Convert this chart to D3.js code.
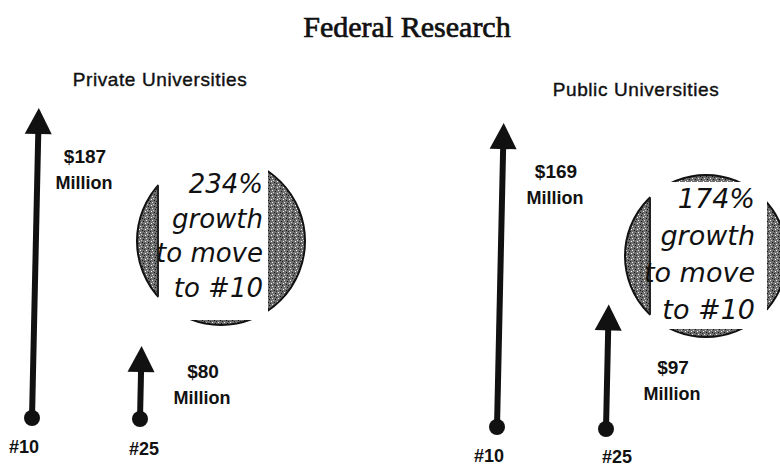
<!DOCTYPE html>
<html>
<head>
<meta charset="utf-8">
<script src="https://cdn.jsdelivr.net/npm/d3@7"></script>
<style>
  html, body { margin: 0; padding: 0; background: #fff; }
  svg { display: block; }
</style>
</head>
<body>
<div id="chart"></div>
<script>
(function() {
  // data
  const TITLE = "Federal Research";
  const panelNames = ["Private Universities", "Public Universities"];
  const rankLabels = ["#10", "#25"];
  const privateMillions = [187, 80];
  const publicMillions = [169, 97];
  const growthPct = [234, 174];
  const growthLines = ["growth", "to move", "to #10"];

  const W = 780, H = 468;
  const SANS = "'Liberation Sans', Arial, Helvetica, sans-serif";

  // layout per panel (positions only, no values)
  const layout = [
    {
      titleX: 160, titleY: 86,
      baseY: [418, 419], arrowX: [35, 143], maxLen: 310,
      labelDX: [50, 60], labelDY: [55, 32],
      rankDX: [-8, 4], rankDY: [35, 36],
      circle: { cx: 221, cy: 241, r: 84, x0: 158, x1: 268, y0: 150, y1: 320 },
      textX: 263, textY: 193, lineGap: 34.5, textSize: 26
    },
    {
      titleX: 636, titleY: 96,
      baseY: [427, 429], arrowX: [500, 609], maxLen: 304,
      labelDX: [56, 64], labelDY: [55, 70],
      rankDX: [-8, 11], rankDY: [35, 34],
      circle: { cx: 706, cy: 256, r: 81, x0: 650, x1: 767, y0: 182, y1: 329 },
      textX: 755, textY: 208, lineGap: 37, textSize: 27
    }
  ];

  const TILT = 0.022; // the scan leans a little to the right
  const MIN_VAL = 47; // arrows in the original do not start at zero

  const svg = d3.select("#chart").append("svg")
    .attr("width", W).attr("height", H);

  // stipple texture for the circles
  const defs = svg.append("defs");
  const pat = defs.append("pattern")
    .attr("id", "stipple")
    .attr("patternUnits", "userSpaceOnUse")
    .attr("width", 6).attr("height", 6);
  pat.append("rect").attr("width", 6).attr("height", 6).attr("fill", "#6e6e6e");
  [[1, 1, "#fff"], [4, 2, "#111"], [2, 4, "#eee"], [5, 5, "#111"], [0, 3, "#222"], [3, 0, "#ccc"]]
    .forEach(([x, y, c]) => pat.append("rect")
      .attr("x", x).attr("y", y).attr("width", 1).attr("height", 1).attr("fill", c));

  // title
  svg.append("text")
    .attr("x", 407).attr("y", 37)
    .attr("text-anchor", "middle")
    .style("font-family", "'Liberation Serif', 'DejaVu Serif', serif")
    .style("font-size", "30px")
    .style("fill", "#111")
    .style("stroke", "#111").style("stroke-width", "0.7px")
    .text(TITLE);

  const allValues = [privateMillions, publicMillions];

  panelNames.forEach((name, p) => {
    const L = layout[p];
    const vals = allValues[p];
    const g = svg.append("g");

    g.append("text")
      .attr("x", L.titleX).attr("y", L.titleY)
      .attr("text-anchor", "middle")
      .style("font-family", SANS)
      .style("font-size", "19px")
      .style("letter-spacing", "0.6px")
      .style("fill", "#111")
      .style("stroke", "#111").style("stroke-width", "0.4px")
      .text(name);

    // growth circle
    const c = L.circle;
    const clipId = "clip" + p;
    defs.append("clipPath").attr("id", clipId)
      .append("circle").attr("cx", c.cx).attr("cy", c.cy).attr("r", c.r);

    g.append("circle")
      .attr("cx", c.cx).attr("cy", c.cy).attr("r", c.r)
      .attr("fill", "url(#stipple)")
      .attr("stroke", "#111").attr("stroke-width", 2);
    g.append("rect")
      .attr("x", c.x0).attr("y", c.y0)
      .attr("width", c.x1 - c.x0).attr("height", c.y1 - c.y0)
      .attr("fill", "#fff");
    // thin edge left of the white box
    g.append("g").attr("clip-path", `url(#${clipId})`)
      .append("rect")
      .attr("x", c.x0 - 1).attr("y", c.y0).attr("width", 2).attr("height", c.y1 - c.y0)
      .attr("fill", "#222");

    const lines = [growthPct[p] + "%"].concat(growthLines);
    g.selectAll("text.grow")
      .data(lines)
      .enter().append("text")
      .attr("class", "grow")
      .attr("x", L.textX)
      .attr("y", (d, i) => L.textY + i * L.lineGap)
      .attr("text-anchor", "end")
      .style("font-family", "'DejaVu Sans', sans-serif")
      .style("font-style", "italic")
      .style("font-size", L.textSize + "px")
      .style("fill", "#111")
      .text(d => d);

    // arrows
    const y = d3.scaleLinear()
      .domain([MIN_VAL, d3.max(vals)])
      .range([0, L.maxLen]);

    vals.forEach((v, i) => {
      const bx = L.arrowX[i] - 3, by = L.baseY[i];
      const len = y(v);
      const tx = bx + TILT * len, ty = by - len;
      const headH = 26, headW = 27;
      const ang = Math.atan2(tx - bx, by - ty);
      const ux = Math.sin(ang), uy = -Math.cos(ang);
      const hx = tx - ux * headH, hy = ty - uy * headH;
      const px = Math.cos(ang), py = Math.sin(ang);

      g.append("line")
        .attr("x1", bx).attr("y1", by)
        .attr("x2", hx + ux * 2).attr("y2", hy + uy * 2)
        .attr("stroke", "#111").attr("stroke-width", 6);
      g.append("path")
        .attr("d", `M${tx},${ty}L${hx + px * headW / 2},${hy + py * headW / 2}L${hx - px * headW / 2},${hy - py * headW / 2}Z`)
        .attr("fill", "#111");
      g.append("circle")
        .attr("cx", bx).attr("cy", by).attr("r", 8)
        .attr("fill", "#111");

      // value label
      const lx = L.arrowX[i] + L.labelDX[i];
      const ly = ty + L.labelDY[i];
      g.append("text")
        .attr("x", lx).attr("y", ly)
        .attr("text-anchor", "middle")
        .style("font-family", SANS).style("font-weight", "bold")
        .style("font-size", "19px").style("fill", "#111")
        .text("$" + v);
      g.append("text")
        .attr("x", lx - 1).attr("y", ly + 26)
        .attr("text-anchor", "middle")
        .style("font-family", SANS).style("font-weight", "bold")
        .style("font-size", "18px").style("fill", "#111")
        .text("Million");

      // rank label
      g.append("text")
        .attr("x", bx + L.rankDX[i]).attr("y", by + L.rankDY[i])
        .attr("text-anchor", "middle")
        .style("font-family", SANS).style("font-weight", "bold")
        .style("font-size", "18px").style("fill", "#111")
        .text(rankLabels[i]);
    });
  });
})();
</script>
</body>
</html>
